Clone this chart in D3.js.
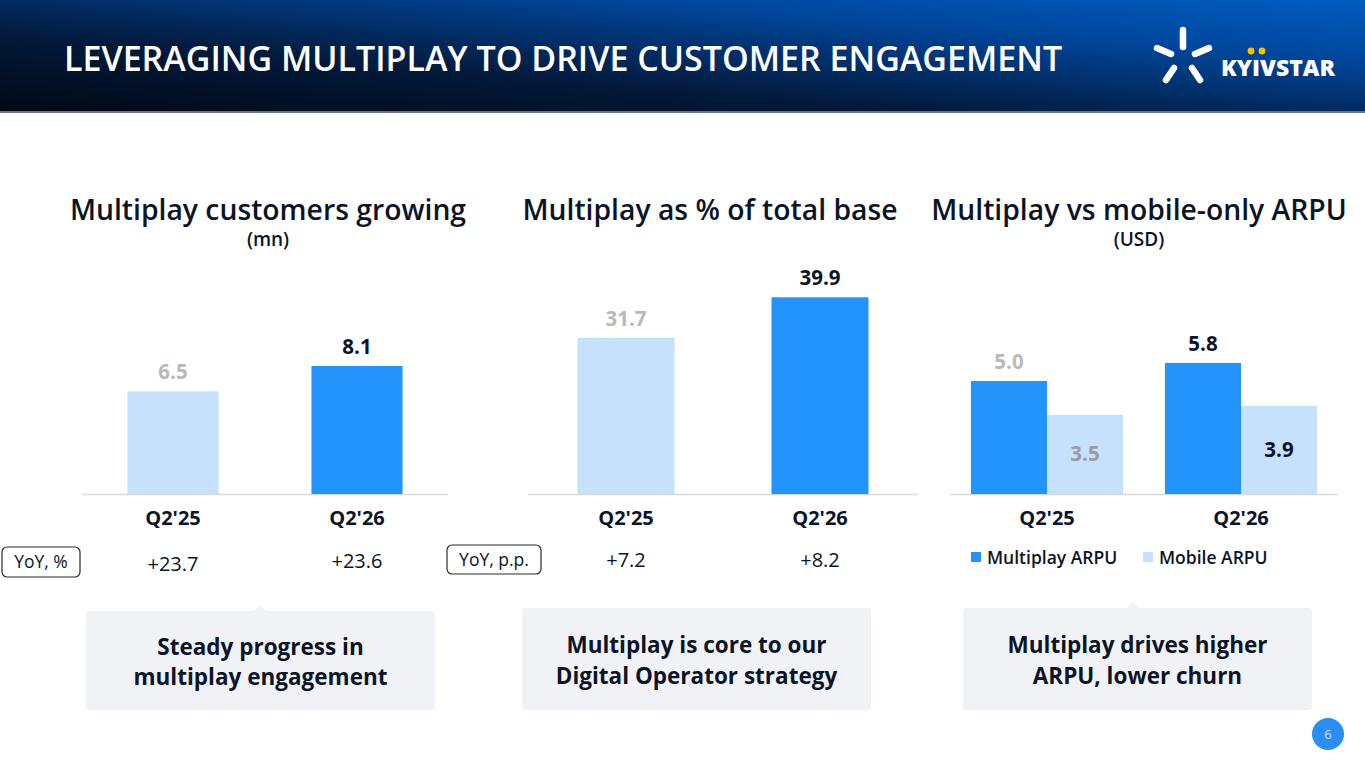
<!DOCTYPE html>
<html><head><meta charset="utf-8">
<script src="https://cdn.jsdelivr.net/npm/d3@7/dist/d3.min.js"></script>
<style>
html,body{margin:0;padding:0;background:#fff;}
svg{display:block;font-family:"Open Sans",sans-serif;}
</style></head>
<body>
<svg id="c" width="1365" height="768"></svg>
<script>
const pageTitle = "LEVERAGING MULTIPLAY TO DRIVE CUSTOMER ENGAGEMENT";
const categories = ["Q2'25", "Q2'26"];
const customers = [6.5, 8.1];
const customersYoY = ["+23.7", "+23.6"];
const shareOfBase = [31.7, 39.9];
const shareYoY = ["+7.2", "+8.2"];
const arpuSeries = ["Multiplay ARPU", "Mobile ARPU"];
const multiplayArpu = [5.0, 5.8];
const mobileArpu = [3.5, 3.9];
const panelTitles = ["Multiplay customers growing", "Multiplay as % of total base", "Multiplay vs mobile-only ARPU"];
const panelUnits = ["(mn)", "", "(USD)"];
const callouts = [["Steady progress in", "multiplay engagement"], ["Multiplay is core to our", "Digital Operator strategy"], ["Multiplay drives higher", "ARPU, lower churn"]];

const C = {dark:"#2394fb", light:"#c6e1fb", text:"#0c1427", grey:"#b9b9b9", grey2:"#9c9c9c", axis:"#d9d9d9", box:"#f1f2f6"};
const svg = d3.select("#c");
const defs = svg.append("defs");

// header
const g1 = defs.append("linearGradient").attr("id","hg").attr("x1","0%").attr("y1","100%").attr("x2","100%").attr("y2","0%");
g1.append("stop").attr("offset","0%").attr("stop-color","#010814");
g1.append("stop").attr("offset","35%").attr("stop-color","#031a3c");
g1.append("stop").attr("offset","75%").attr("stop-color","#0049a0");
g1.append("stop").attr("offset","100%").attr("stop-color","#005cbf");
svg.append("rect").attr("x",0).attr("y",0).attr("width",1365).attr("height",112).attr("fill","url(#hg)");
svg.append("rect").attr("x",0).attr("y",111).attr("width",1365).attr("height",2).attr("fill","#6b7480");
svg.append("text").attr("x",64).attr("y",71).attr("fill","#fff").attr("font-size",34).attr("font-weight",600)
  .text(pageTitle);

// logo
const logo = svg.append("g").attr("stroke","#fff").attr("stroke-width",6.5).attr("stroke-linecap","round");
[[1183,30,1183,47],[1157,48,1171,54],[1195,54,1209,48],[1166,80,1174,68],[1192,68,1200,80]].forEach(s=>{
  logo.append("line").attr("x1",s[0]).attr("y1",s[1]).attr("x2",s[2]).attr("y2",s[3]);
});
svg.append("text").attr("x",1221).attr("y",76).attr("fill","#fff").attr("font-size",22.5).attr("font-weight",800)
  .attr("textLength",114).attr("lengthAdjust","spacingAndGlyphs").text("KYIVSTAR");
svg.append("circle").attr("cx",1251).attr("cy",51).attr("r",3.4).attr("fill","#f5c400");
svg.append("circle").attr("cx",1262).attr("cy",51).attr("r",3.4).attr("fill","#f5c400");

// panel titles
const titleX = [268, 710, 1139];
panelTitles.forEach((t,i)=>{
  svg.append("text").attr("x",titleX[i]).attr("y",220).attr("text-anchor","middle").attr("fill",C.text)
    .attr("font-size",28.3).attr("font-weight",600).text(t);
  if (panelUnits[i]) svg.append("text").attr("x",titleX[i]).attr("y",246).attr("text-anchor","middle").attr("fill",C.text)
    .attr("font-size",19).attr("font-weight",600).text(panelUnits[i]);
});

const base = 494;
function axisLine(x0,x1){
  svg.append("line").attr("x1",x0).attr("x2",x1).attr("y1",base+0.5).attr("y2",base+0.5).attr("stroke",C.axis).attr("stroke-width",1.5);
}
function catLabels(x){
  const ax = svg.append("g").attr("transform",`translate(0,${base})`).call(d3.axisBottom(x).tickSize(0).tickPadding(0));
  ax.select(".domain").remove();
  ax.selectAll("text").attr("dy",null).attr("y",31).attr("font-size",20).attr("font-weight",700)
    .attr("fill",C.text).attr("font-family","Open Sans");
}
function yoyRow(x, vals, yList){
  vals.forEach((v,i)=>{
    svg.append("text").attr("x",x(categories[i])+x.bandwidth()/2).attr("y",yList[i]).attr("text-anchor","middle")
      .attr("fill",C.text).attr("font-size",20).text(v);
  });
}
function tag(x,y,w,h,t){
  svg.append("rect").attr("x",x).attr("y",y).attr("width",w).attr("height",h).attr("rx",5)
    .attr("fill","#fff").attr("stroke","#2a2a2a").attr("stroke-width",1.2);
  svg.append("text").attr("x",x+w/2).attr("y",y+h/2+6).attr("text-anchor","middle").attr("fill",C.text)
    .attr("font-size",17.5).text(t);
}

// Panel 1
const x1 = d3.scaleBand().domain(categories).range([82,448]).paddingInner(0.505).paddingOuter(0.247);
const y1 = d3.scaleLinear().domain([0,10]).range([base,336]);
axisLine(82,448);
svg.append("g").selectAll("rect").data(customers).join("rect")
  .attr("x",(d,i)=>x1(categories[i])).attr("width",x1.bandwidth())
  .attr("y",d=>y1(d)).attr("height",d=>base-y1(d))
  .attr("fill",(d,i)=>i===0?C.light:C.dark);
svg.append("g").selectAll("text").data(customers).join("text")
  .attr("x",(d,i)=>x1(categories[i])+x1.bandwidth()/2).attr("y",d=>y1(d)-12)
  .attr("text-anchor","middle").attr("font-size",20.5).attr("font-weight",700)
  .attr("fill",(d,i)=>i===0?C.grey:C.text).text(d=>d.toFixed(1));
catLabels(x1);
yoyRow(x1, customersYoY, [571, 568]);
tag(2,547,78,30,"YoY, %");

// Panel 2
const x2 = d3.scaleBand().domain(categories).range([528,918]).paddingInner(0.5).paddingOuter(0.255);
const y2 = d3.scaleLinear().domain([0,50]).range([base,247.5]);
axisLine(528,918);
svg.append("g").selectAll("rect").data(shareOfBase).join("rect")
  .attr("x",(d,i)=>x2(categories[i])).attr("width",x2.bandwidth())
  .attr("y",d=>y2(d)).attr("height",d=>base-y2(d))
  .attr("fill",(d,i)=>i===0?C.light:C.dark);
svg.append("g").selectAll("text").data(shareOfBase).join("text")
  .attr("x",(d,i)=>x2(categories[i])+x2.bandwidth()/2).attr("y",d=>y2(d)-12)
  .attr("text-anchor","middle").attr("font-size",20.5).attr("font-weight",700)
  .attr("fill",(d,i)=>i===0?C.grey:C.text).text(d=>d.toFixed(1));
catLabels(x2);
yoyRow(x2, shareYoY, [567, 567]);
tag(447,545,94,29,"YoY, p.p.");

// Panel 3
const x3 = d3.scaleBand().domain(categories).range([950,1338]).paddingInner(0.216).paddingOuter(0.108);
const xs = d3.scaleBand().domain(arpuSeries).range([0,x3.bandwidth()]).padding(0);
const y3 = d3.scaleLinear().domain([0,7]).range([base,335.8]);
axisLine(950,1338);
const rows = categories.map((c,i)=>({cat:c, vals:[{s:arpuSeries[0],v:multiplayArpu[i]},{s:arpuSeries[1],v:mobileArpu[i]}], i}));
const grp = svg.append("g").selectAll("g").data(rows).join("g").attr("transform",d=>`translate(${x3(d.cat)},0)`);
grp.selectAll("rect").data(d=>d.vals).join("rect")
  .attr("x",d=>xs(d.s)).attr("width",xs.bandwidth()).attr("y",d=>y3(d.v)).attr("height",d=>base-y3(d.v))
  .attr("fill",d=>d.s===arpuSeries[0]?C.dark:C.light);
grp.each(function(r){
  const g = d3.select(this);
  const m = r.vals[0], mo = r.vals[1];
  g.append("text").attr("x",xs(m.s)+xs.bandwidth()/2).attr("y",y3(m.v)-12).attr("text-anchor","middle")
    .attr("font-size",20.5).attr("font-weight",700).attr("fill",r.i===0?C.grey:C.text).text(m.v.toFixed(1));
  g.append("text").attr("x",xs(mo.s)+xs.bandwidth()/2).attr("y",(y3(mo.v)+base)/2+7).attr("text-anchor","middle")
    .attr("font-size",20.5).attr("font-weight",700).attr("fill",r.i===0?C.grey2:C.text).text(mo.v.toFixed(1));
});
catLabels(x3);
// legend
const lg = svg.append("g").attr("transform","translate(971,552)");
const lx = [0,172];
arpuSeries.forEach((s,i)=>{
  lg.append("rect").attr("x",lx[i]).attr("y",0).attr("width",10).attr("height",10).attr("fill",i===0?C.dark:C.light);
  lg.append("text").attr("x",lx[i]+16).attr("y",11.5).attr("font-size",17.5).attr("font-weight",600).attr("fill",C.text).text(s);
});

// callouts
const boxes = [{x:86,y:611,w:349,h:99,px:260},{x:522,y:608,w:349,h:102,px:null},{x:963,y:608,w:349,h:102,px:1133}];
boxes.forEach((b,i)=>{
  if (b.px) svg.append("path").attr("d",`M${b.px-7},${b.y+1} L${b.px},${b.y-6} L${b.px+7},${b.y+1} Z`).attr("fill",C.box);
  svg.append("rect").attr("x",b.x).attr("y",b.y).attr("width",b.w).attr("height",b.h).attr("rx",3).attr("fill",C.box);
  callouts[i].forEach((line,j)=>{
    svg.append("text").attr("text-anchor","middle").attr("font-size",22.5).attr("font-weight",700).attr("fill",C.text)
      .attr("x",b.x+b.w/2).attr("y",b.y+b.h/2-6+j*30.5).text(line);
  });
});

// page number
svg.append("circle").attr("cx",1328).attr("cy",734).attr("r",16).attr("fill","#2a8ef2");
svg.append("text").attr("x",1328).attr("y",739).attr("text-anchor","middle").attr("font-size",13).attr("fill","#cfe4ff").text("6");
</script>
</body></html>
